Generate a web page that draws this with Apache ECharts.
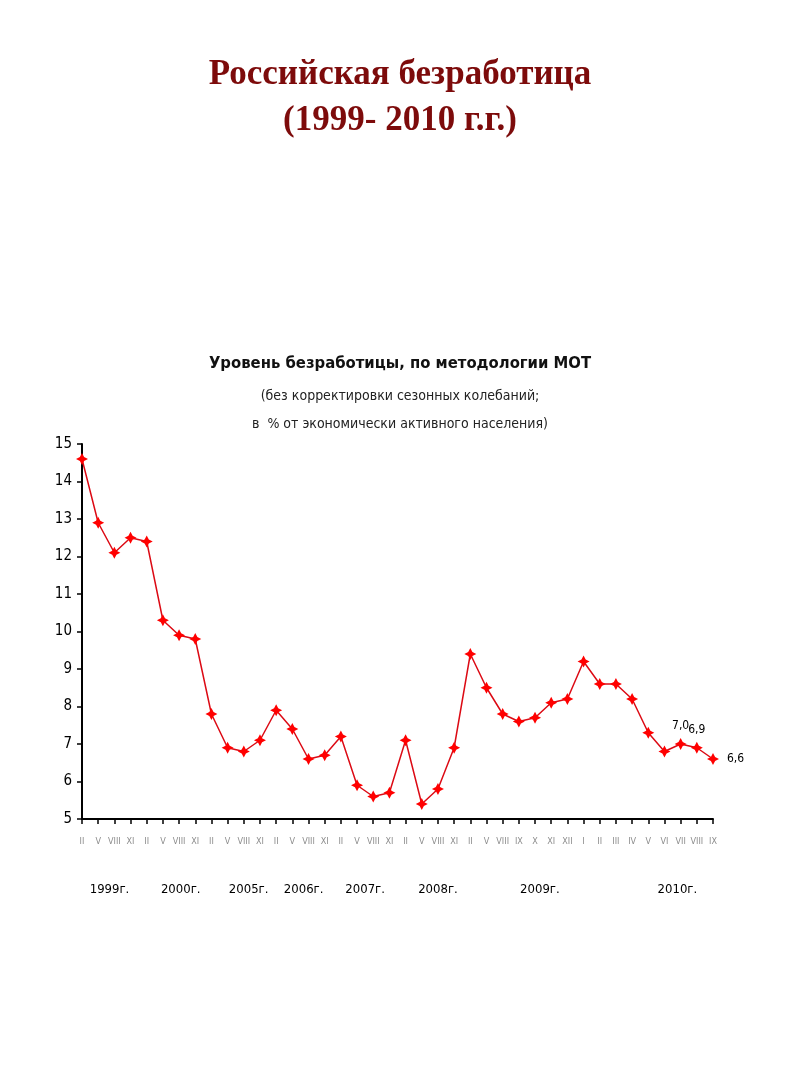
<!DOCTYPE html>
<html>
<head>
<meta charset="utf-8">
<script src="https://cdn.jsdelivr.net/npm/echarts@6/dist/echarts.min.js"></script>
<style>
  html, body { margin: 0; padding: 0; background: #fff; }
  #main { width: 800px; height: 1066px; }
</style>
</head>
<body>
<div id="main"></div>
<script>
// месяцы (римские) по оси X
const months = [
  'II', 'V', 'VIII', 'XI',
  'II', 'V', 'VIII', 'XI',
  'II', 'V', 'VIII', 'XI',
  'II', 'V', 'VIII', 'XI',
  'II', 'V', 'VIII', 'XI',
  'II', 'V', 'VIII', 'XI',
  'II', 'V', 'VIII', 'IX', 'X', 'XI', 'XII',
  'I', 'II', 'III', 'IV', 'V', 'VI', 'VII', 'VIII', 'IX'
]
// уровень безработицы, %
const rates = [
  14.6, 12.9, 12.1, 12.5,
  12.4, 10.3, 9.9, 9.8,
  7.8, 6.9, 6.8, 7.1,
  7.9, 7.4, 6.6, 6.7,
  7.2, 5.9, 5.6, 5.7,
  7.1, 5.4, 5.8, 6.9,
  9.4, 8.5, 7.8, 7.6, 7.7, 8.1, 8.2,
  9.2, 8.6, 8.6, 8.2, 7.3, 6.8, 7.0, 6.9, 6.6
]
// подписи годов и их место на шкале (в номерах точек)
const years = ['1999г.', '2000г.', '2005г.', '2006г.', '2007г.', '2008г.', '2009г.', '2010г.']
const yearAt = [1.7, 6.1, 10.3, 13.7, 17.5, 22, 28.3, 36.8]
// точки с подписями значений
const labelTop = [37, 38]
const labelRight = [39]

const narrow = "'Liberation Sans Narrow', 'DejaVu Sans Condensed', Arial, sans-serif"
// маркер — красный крестик-ромб
const star = 'path://M0,-10 L3.5,-3.5 L10,0 L3.5,3.5 L0,10 L-3.5,3.5 L-10,0 L-3.5,-3.5 Z'

const fmt = v => v.toFixed(1).replace('.', ',')

const seriesData = rates.map((v, i) => {
  const item = { value: v }
  if (labelTop.includes(i)) {
    item.label = { show: true, position: 'top', distance: 6 }
  } else if (labelRight.includes(i)) {
    item.label = { show: true, position: 'right', distance: 8 }
  }
  return item
})

const chart = echarts.init(document.getElementById('main'))
chart.setOption({
  backgroundColor: '#fff',
  animation: false,
  title: [{
    text: 'Российская безработица\n(1999- 2010 г.г.)',
    left: 'center',
    top: 47,
    textStyle: {
      fontFamily: "'Liberation Serif', 'DejaVu Serif', serif",
      fontSize: 35,
      fontWeight: 'bold',
      color: '#7d0b0b',
      lineHeight: 46
    }
  }, {
    text: 'Уровень безработицы, по методологии МОТ',
    subtext: '(без корректировки сезонных колебаний;\nв  % от экономически активного населения)',
    left: 'center',
    top: 350,
    itemGap: 10,
    textStyle: {
      fontFamily: narrow,
      fontSize: 16.5,
      fontWeight: 'bold',
      color: '#111'
    },
    subtextStyle: {
      fontFamily: narrow,
      fontSize: 14,
      color: '#222',
      lineHeight: 28
    }
  }],
  grid: {
    left: 82,
    right: 87,
    top: 444,
    bottom: 247,
    containLabel: false
  },
  xAxis: [{
    type: 'category',
    data: months,
    boundaryGap: false,
    axisLine: { lineStyle: { color: '#000', width: 2 } },
    axisTick: { show: true, length: 5, interval: 0, lineStyle: { color: '#000', width: 1.5 } },
    axisLabel: {
      interval: 0,
      margin: 18,
      fontFamily: narrow,
      fontSize: 9,
      color: '#8c8c8c'
    }
  }, {
    type: 'value',
    min: 0,
    max: rates.length - 1,
    position: 'bottom',
    offset: 56,
    axisLine: { show: false },
    axisTick: { show: false },
    splitLine: { show: false },
    axisLabel: {
      customValues: yearAt,
      formatter: v => years[yearAt.indexOf(v)],
      fontFamily: narrow,
      fontSize: 13,
      color: '#000'
    }
  }],
  yAxis: {
    type: 'value',
    min: 5,
    max: 15,
    interval: 1,
    axisLine: { show: true, lineStyle: { color: '#000', width: 2 } },
    axisTick: { show: true, length: 5, lineStyle: { color: '#000', width: 1.5 } },
    splitLine: { show: false },
    axisLabel: {
      margin: 10,
      fontFamily: narrow,
      fontSize: 15,
      color: '#000'
    }
  },
  series: [{
    type: 'line',
    data: seriesData,
    symbol: star,
    symbolSize: 12,
    lineStyle: { color: '#dc0a14', width: 1.5 },
    itemStyle: { color: '#ff0000' },
    label: {
      show: false,
      formatter: p => fmt(p.value),
      fontFamily: narrow,
      fontSize: 12,
      color: '#000'
    }
  }]
})
</script>
</body>
</html>
